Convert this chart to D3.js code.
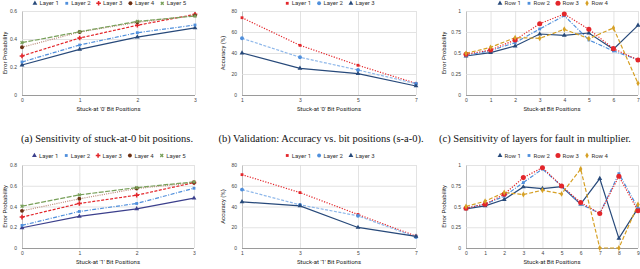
<!DOCTYPE html>
<html>
<head>
<meta charset="utf-8">
<script src="https://cdn.jsdelivr.net/npm/d3@7"></script>
<style>
  html, body { margin: 0; padding: 0; background: #fff; }
  svg { display: block; font-family: Roboto, "Liberation Sans", sans-serif; }
  .caption { font-family: "Liberation Serif", "DejaVu Serif", serif; font-size: 10.5px; fill: #111; }
  .tick text { fill: #444; font-size: 5px; }
  .axis-title { fill: #222; font-size: 6px; }
  .legend text { fill: #333; font-size: 6px; }
</style>
</head>
<body>
<svg id="chart" width="640" height="269"></svg>
<script>
// ---- categories (bit positions) ----
const bits4 = ['0', '1', '2', '3'];
const bitsOdd = ['1', '3', '5', '7'];
const bits8 = ['0', '1', '2', '3', '4', '5', '6', '7'];
const bits10 = ['0', '1', '2', '3', '4', '5', '6', '7', '8', '9'];

// ---- legend names ----
const layers5 = ['Layer 1', 'Layer 2', 'Layer 3', 'Layer 4', 'Layer 5'];
const layers3 = ['Layer 1', 'Layer 2', 'Layer 3'];
const rows4 = ['Row 1', 'Row 2', 'Row 3', 'Row 4'];

// ---- y tick values ----
const probTicksTop = [0, 0.2, 0.4, 0.6];
const probTicksBottom = [0, 0.2, 0.4, 0.6, 0.8];
const accTicks = [0, 20, 40, 60, 80];
const rowTicks = [0, 0.25, 0.5, 0.75, 1];

// (a) error probability, stuck-at-0
const sa0Layer1 = [0.214, 0.326, 0.414, 0.479];
const sa0Layer2 = [0.236, 0.357, 0.445, 0.500];
const sa0Layer3 = [0.279, 0.407, 0.498, 0.576];
const sa0Layer4 = [0.341, 0.450, 0.519, 0.569];
const sa0Layer5 = [0.374, 0.452, 0.526, 0.564];

// (b) accuracy, stuck-at-0
const acc0Layer1 = [73.6, 47.3, 28.3, 11.1];
const acc0Layer2 = [54.0, 35.9, 23.8, 10.8];
const acc0Layer3 = [40.0, 25.4, 20.3, 8.6];

// (c) multiplier rows, 8 bits
const mul8Row1 = [0.464, 0.504, 0.583, 0.726, 0.710, 0.738, 0.544, 0.829];
const mul8Row2 = [0.470, 0.528, 0.623, 0.786, 0.944, 0.655, 0.524, 0.420];
const mul8Row3 = [0.484, 0.536, 0.655, 0.849, 0.964, 0.782, 0.552, 0.417];
const mul8Row4 = [0.496, 0.567, 0.683, 0.675, 0.782, 0.671, 0.798, 0.139];

// bottom left: error probability, stuck-at-1
const sa1Layer1 = [0.195, 0.304, 0.378, 0.480];
const sa1Layer2 = [0.218, 0.352, 0.429, 0.576];
const sa1Layer3 = [0.298, 0.429, 0.509, 0.630];
const sa1Layer4 = [0.358, 0.474, 0.573, 0.630];
const sa1Layer5 = [0.403, 0.512, 0.582, 0.637];

// bottom middle: accuracy, stuck-at-1
const acc1Layer1 = [70.7, 53.4, 32.3, 11.5];
const acc1Layer2 = [56.3, 41.6, 31.0, 10.6];
const acc1Layer3 = [44.5, 40.6, 19.8, 11.2];

// bottom right: multiplier rows, 10 bits
const mul10Row1 = [0.472, 0.508, 0.584, 0.736, 0.716, 0.740, 0.528, 0.836, 0.116, 0.480];
const mul10Row2 = [0.480, 0.528, 0.624, 0.788, 0.952, 0.748, 0.528, 0.416, 0.896, 0.480];
const mul10Row3 = [0.480, 0.528, 0.648, 0.848, 0.968, 0.748, 0.548, 0.416, 0.864, 0.448];
const mul10Row4 = [0.500, 0.564, 0.668, 0.644, 0.696, 0.652, 0.952, 0.000, 0.000, 0.524];

// line styles
const navy = '#27497a', blue = '#4f8fdc', red = '#e3262b', brown = '#6b2f12', green = '#78a05a', gold = '#d6a025';
const tri = {shape: d3.symbolTriangle, size: 10};
const sq = {shape: d3.symbolSquare, size: 8};
const plus = {shape: d3.symbolCross, size: 12};
const circ = {shape: d3.symbolCircle, size: 12};
const ex = {shape: d3.symbolCross, size: 9, rotate: 45};
const dia = {shape: d3.symbolDiamond, size: 10};

const styleA = [
  {color: navy, dash: null, mark: tri},
  {color: blue, dash: '4,1.5,1,1.5', mark: sq},
  {color: red, dash: '3,1.5', mark: plus},
  {color: brown, dash: '1,1.2', mark: circ, lineColor: '#b98a78'},
  {color: green, dash: '5,1.5', mark: ex},
];
// bottom-left plot draws layer 1 in a more violet navy
const styleA1 = styleA.map((s, i) => i === 0 ? {color: '#3b3f8c', dash: null, mark: tri} : s);
const styleB = [
  {color: red, dash: '1.2,1.5', mark: sq},
  {color: blue, dash: '3,1.5', mark: circ, lineColor: '#8fb8ea'},
  {color: navy, dash: null, mark: tri},
];
const styleC = [
  {color: navy, dash: null, mark: tri},
  {color: blue, dash: '4,1.5,1,1.5', mark: sq},
  {color: red, dash: '1.2,1.5', mark: {shape: d3.symbolCircle, size: 20}},
  {color: gold, dash: '4,2', mark: dia},
];

const panels = [
  {x0: 22, x1: 195, y0: 11, y1: 95, cats: bits4, ticks: probTicksTop, names: layers5, styles: styleA,
   series: [sa0Layer1, sa0Layer2, sa0Layer3, sa0Layer4, sa0Layer5],
   yTitle: 'Error Probability', yTitleX: 5, xTitle: "Stuck-at '0' Bit Positions"},
  {x0: 242, x1: 416, y0: 11, y1: 95, cats: bitsOdd, ticks: accTicks, names: layers3, styles: styleB,
   series: [acc0Layer1, acc0Layer2, acc0Layer3],
   yTitle: 'Accuracy (%)', yTitleX: 223, xTitle: "Stuck-at '0' Bit Positions"},
  {x0: 466, x1: 638, y0: 11, y1: 95, cats: bits8, ticks: rowTicks, names: rows4, styles: styleC,
   series: [mul8Row1, mul8Row2, mul8Row3, mul8Row4],
   yTitle: 'Error Probability', yTitleX: 444, xTitle: 'Stuck-at Bit Positions'},
  {x0: 22, x1: 194, y0: 165, y1: 248, cats: bits4, ticks: probTicksBottom, names: layers5, styles: styleA1,
   series: [sa1Layer1, sa1Layer2, sa1Layer3, sa1Layer4, sa1Layer5],
   yTitle: 'Error Probability', yTitleX: 5, xTitle: "Stuck-at '1' Bit Positions"},
  {x0: 242, x1: 416, y0: 165, y1: 248, cats: bitsOdd, ticks: accTicks, names: layers3, styles: styleB,
   series: [acc1Layer1, acc1Layer2, acc1Layer3],
   yTitle: 'Accuracy (%)', yTitleX: 223, xTitle: "Stuck-at '1' Bit Positions"},
  {x0: 466, x1: 638, y0: 165, y1: 248, cats: bits10, ticks: rowTicks, names: rows4, styles: styleC,
   series: [mul10Row1, mul10Row2, mul10Row3, mul10Row4],
   yTitle: 'Error Probability', yTitleX: 444, xTitle: 'Stuck-at Bit Positions'},
];

const captions = [
  {x: 107, text: '(a) Sensitivity of stuck-at-0 bit positions.'},
  {x: 321, text: '(b) Validation: Accuracy vs. bit positions (s-a-0).'},
  {x: 535, text: '(c) Sensitivity of layers for fault in multiplier.'},
];

const svg = d3.select('#chart');

function marker(g, m, color, x, y) {
  g.append('path')
   .attr('d', d3.symbol().type(m.shape).size(m.size))
   .attr('transform', `translate(${x},${y})` + (m.rotate ? ` rotate(${m.rotate})` : ''))
   .attr('fill', color);
}

function drawPanel(p) {
  const g = svg.append('g');
  const x = d3.scalePoint().domain(p.cats).range([p.x0, p.x1]);
  const y = d3.scaleLinear().domain([0, d3.max(p.ticks)]).range([p.y1, p.y0]);

  // horizontal grid + y labels
  const ya = g.append('g')
    .attr('transform', `translate(${p.x0},0)`)
    .call(d3.axisLeft(y).tickValues(p.ticks).tickFormat((d) => String(d))
      .tickSize(-(p.x1 - p.x0)).tickPadding(5));
  ya.select('.domain').remove();
  ya.selectAll('line').attr('stroke', (d) => d === 0 ? '#9a9a9a' : '#dcdcdc')
    .attr('stroke-width', (d) => d === 0 ? 1.2 : 0.8);

  // vertical grid + x labels
  const xa = g.append('g')
    .attr('transform', `translate(0,${p.y1})`)
    .call(d3.axisBottom(x).tickSize(-(p.y1 - p.y0)).tickPadding(3));
  xa.select('.domain').remove();
  xa.selectAll('line').attr('stroke', (d, i) => i === 0 ? '#b0b0b0' : '#dcdcdc')
    .attr('stroke-width', 0.8);
  ya.raise();
  ya.selectAll('line').filter((d) => d === 0).raise();
  g.selectAll('.tick text').attr('font-family', null).attr('font-size', null);

  // series
  const line = d3.line().x((d, i) => x(p.cats[i])).y((d) => y(d));
  p.series.forEach((vals, k) => {
    const s = p.styles[k];
    g.append('path')
     .datum(vals)
     .attr('d', line)
     .attr('fill', 'none')
     .attr('stroke', s.lineColor || s.color)
     .attr('stroke-width', 1.2)
     .attr('stroke-dasharray', s.dash);
  });
  p.series.forEach((vals, k) => {
    const s = p.styles[k];
    vals.forEach((v, i) => marker(g, s.mark, s.color, x(p.cats[i]), y(v)));
  });

  // axis titles
  g.append('text').attr('class', 'axis-title')
   .attr('text-anchor', 'middle')
   .attr('transform', `translate(${p.yTitleX + 2},${(p.y0 + p.y1) / 2}) rotate(-90)`)
   .text(p.yTitle);
  g.append('text').attr('class', 'axis-title')
   .attr('text-anchor', 'middle')
   .attr('x', (p.x0 + p.x1) / 2).attr('y', p.y1 + 16)
   .text(p.xTitle);

  // legend centred over the plot (top row sits right at the page edge)
  const lg = g.append('g').attr('class', 'legend');
  const items = p.names.map((name, k) => {
    const it = lg.append('g');
    marker(it, p.styles[k].mark, p.styles[k].color, 0, 0);
    const t = it.append('text').attr('x', 4.5).attr('dy', '0.35em').text(name);
    return {it, w: 4.5 + t.node().getComputedTextLength()};
  });
  const gap = 8;
  const total = d3.sum(items, (d) => d.w) + gap * (items.length - 1);
  let cx = (p.x0 + p.x1) / 2 - total / 2;
  const ly = Math.max(p.y0 - 9.5, 3.3);
  items.forEach((d) => {
    d.it.attr('transform', `translate(${cx + 2},${ly})`);
    cx += d.w + gap;
  });
}

panels.forEach(drawPanel);

svg.selectAll('text.caption')
  .data(captions)
  .enter()
  .append('text')
  .attr('class', 'caption')
  .attr('text-anchor', 'middle')
  .attr('x', (d) => d.x)
  .attr('y', 142)
  .text((d) => d.text);
</script>
</body>
</html>
